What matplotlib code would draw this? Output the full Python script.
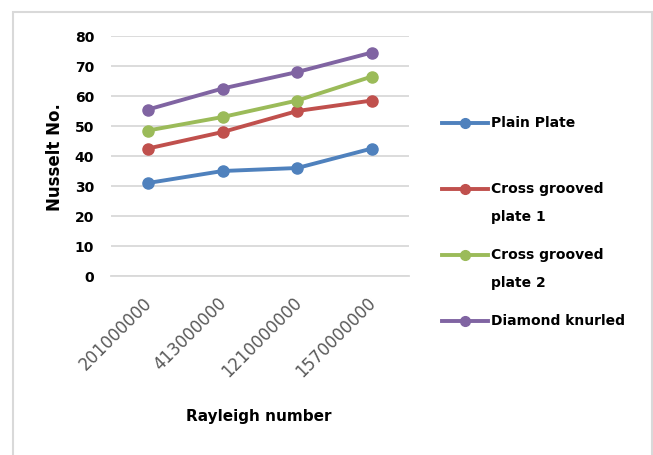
import matplotlib
matplotlib.use("Agg")
import matplotlib.pyplot as plt
from matplotlib.lines import Line2D
from matplotlib.patches import Rectangle
from matplotlib.transforms import ScaledTranslation

plt.rcParams['font.family'] = ['DejaVu Sans']

categories = ["201000000", "413000000", "1210000000", "1570000000"]
plain_plate = [31, 35, 36, 42.5]
cross_grooved_1 = [42.5, 48, 55, 58.5]
cross_grooved_2 = [48.5, 53, 58.5, 66.5]
diamond_knurled = [55.5, 62.5, 68, 74.5]
series_labels = ["Plain Plate", "Cross grooved\nplate 1", "Cross grooved\nplate 2", "Diamond knurled"]
series_colors = ["#4F81BD", "#C0504D", "#9BBB59", "#8064A2"]
yticks = [0, 10, 20, 30, 40, 50, 60, 70, 80]

W, H = 653, 455
fig = plt.figure(figsize=(W / 100, H / 100), dpi=100)

# chart border
fig.add_artist(Rectangle((13 / W, -0.02), (652 - 13) / W, (455 - 12) / H + 0.02,
                         transform=fig.transFigure, fill=False,
                         edgecolor="#d9d9d9", linewidth=1.5))

ax = fig.add_axes([110.7 / W, (H - 276) / H, (409.3 - 110.7) / W, 240 / H])
x = list(range(len(categories)))
all_series = [plain_plate, cross_grooved_1, cross_grooved_2, diamond_knurled]
for vals, col in zip(all_series, series_colors):
    ax.plot(x, vals, color=col, linewidth=2.8, marker='o', markersize=8,
            solid_capstyle='round', zorder=3)

ax.set_xlim(-0.5, len(categories) - 0.5)
ax.set_ylim(0, 80)
ax.set_yticks(yticks)
ax.set_yticklabels([str(v) for v in yticks], fontsize=10, fontweight='bold', color='black')
ax.tick_params(axis='y', length=0, pad=12)
ax.set_xticks(x)
ax.set_xticklabels(categories, rotation=45, ha='right', rotation_mode='anchor',
                   fontsize=12, color='#595959')
ax.tick_params(axis='x', length=0, pad=13)
shift = ScaledTranslation(-5 / 100, 0, fig.dpi_scale_trans)
for lbl in ax.get_xticklabels():
    lbl.set_transform(lbl.get_transform() + shift)
ax.grid(axis='y', color='#d9d9d9', linewidth=1.3)
ax.set_axisbelow(True)
for s in ['top', 'right', 'left']:
    ax.spines[s].set_visible(False)
ax.spines['bottom'].set_color('#d9d9d9')
ax.spines['bottom'].set_linewidth(1.3)

fig.text(55 / W, 1 - 157 / H, "Nusselt No.", rotation=90, ha='center', va='center',
         fontsize=12, fontweight='bold')
fig.text(259 / W, 1 - 417 / H, "Rayleigh number", ha='center', va='center',
         fontsize=11, fontweight='bold')

# legend (manual, Excel-like alignment of marker with first text line)
for i, (lab, col) in enumerate(zip(series_labels, series_colors)):
    yc = 123 + 66 * i
    fig.add_artist(Line2D([442 / W, 488 / W], [1 - yc / H, 1 - yc / H],
                          transform=fig.transFigure, color=col, linewidth=2.8))
    fig.add_artist(Line2D([465 / W], [1 - yc / H], transform=fig.transFigure,
                          color=col, marker='o', markersize=7))
    for j, line in enumerate(lab.split("\n")):
        fig.text(491 / W, 1 - (yc + 28 * j) / H, line, ha='left', va='center',
                 fontsize=10, fontweight='bold')

fig.savefig("out.png", dpi=100)
